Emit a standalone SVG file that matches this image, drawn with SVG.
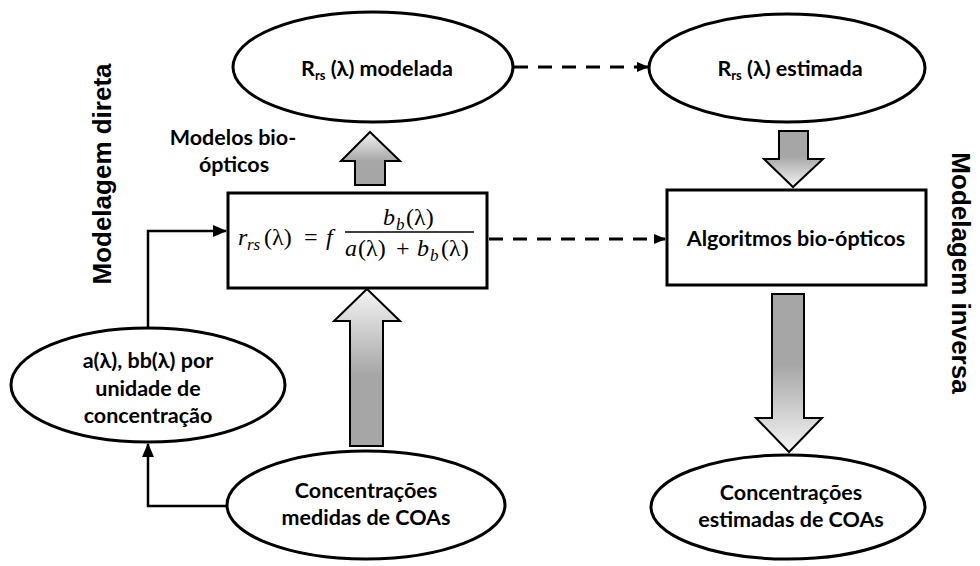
<svg xmlns="http://www.w3.org/2000/svg" width="980" height="566" viewBox="0 0 980 566">
  <style>
    .node { fill: #ffffff; stroke: #000000; stroke-width: 3; }
    .lbl { font-family: Lato, "Liberation Sans", sans-serif; font-weight: bold; font-size: 21.5px; fill: #000000; text-anchor: middle; }
    .sub { font-size: 13px; }
    .side { font-family: "Liberation Sans", Arial, sans-serif; font-weight: bold; font-size: 26px; fill: #000000; text-anchor: middle; }
    .math { font-family: "Liberation Serif", "DejaVu Serif", serif; font-style: italic; font-size: 24px; fill: #000000; }
    .msub { font-family: "Liberation Serif", "DejaVu Serif", serif; font-style: italic; font-size: 17px; fill: #000000; }
    .up { font-family: "Liberation Serif", "DejaVu Serif", serif; font-size: 24px; fill: #000000; }
    .dash { fill: none; stroke: #000000; stroke-width: 3; stroke-dasharray: 14 10; }
    .solid { fill: none; stroke: #000000; stroke-width: 2.5; }
    .block { stroke: #000000; stroke-width: 2; stroke-linejoin: miter; }
  </style>
  <defs>
    <linearGradient id="gradDown" x1="0" y1="0" x2="0" y2="1">
      <stop offset="0" stop-color="#a6a6a6"/>
      <stop offset="0.45" stop-color="#a6a6a6"/>
      <stop offset="1" stop-color="#f4f4f4"/>
    </linearGradient>
    <linearGradient id="gradUp" x1="0" y1="1" x2="0" y2="0">
      <stop offset="0" stop-color="#a6a6a6"/>
      <stop offset="0.45" stop-color="#a6a6a6"/>
      <stop offset="1" stop-color="#f4f4f4"/>
    </linearGradient>
    <marker id="headSmall" markerUnits="userSpaceOnUse" markerWidth="12" markerHeight="10" refX="11" refY="5" orient="auto">
      <path d="M0,0 L12,5 L0,10 Z" fill="#000000"/>
    </marker>
    <marker id="headSolid" markerUnits="userSpaceOnUse" markerWidth="14" markerHeight="12" refX="13" refY="6" orient="auto">
      <path d="M0,0 L14,6 L0,12 Z" fill="#000000"/>
    </marker>
  </defs>

  <!-- side captions -->
  <text class="side" transform="translate(111,174) rotate(-90)">Modelagem direta</text>
  <text class="side" transform="translate(952,273) rotate(90)">Modelagem inversa</text>

  <!-- connectors -->
  <g id="connectors">
    <line class="dash" x1="514" y1="67" x2="648" y2="67" marker-end="url(#headSmall)"/>
    <line class="dash" x1="489" y1="239" x2="665" y2="239" marker-end="url(#headSmall)"/>
    <polyline class="solid" points="227,506 148,506 148,444" marker-end="url(#headSolid)"/>
    <polyline class="solid" points="148,328 148,231 226,231" marker-end="url(#headSolid)"/>
    <polygon class="block" fill="url(#gradUp)" points="370,132 400,161 385,161 385,185 355,185 355,161 341,161"/>
    <polygon class="block" fill="url(#gradUp)" points="367,289 400,321 383,321 383,446 350,446 350,321 334,321"/>
    <polygon class="block" fill="url(#gradDown)" points="779,131 808,131 808,159 823,159 793,187 764,159 779,159"/>
    <polygon class="block" fill="url(#gradDown)" points="772,294 804,294 804,418 822,418 789,452 756,418 772,418"/>
  </g>

  <g id="rrs-modelada">
    <ellipse class="node" cx="373" cy="67" rx="140" ry="55"/>
    <text class="lbl" x="377" y="76">R<tspan class="sub" dy="4">rs</tspan><tspan dy="-4"> (λ) modelada</tspan></text>
  </g>

  <g id="rrs-estimada">
    <ellipse class="node" cx="787" cy="68" rx="138" ry="54"/>
    <text class="lbl" x="790" y="76">R<tspan class="sub" dy="4">rs</tspan><tspan dy="-4"> (λ) estimada</tspan></text>
  </g>

  <g id="modelos-label">
    <text class="lbl" x="233" y="145">Modelos bio-</text>
    <text class="lbl" x="234" y="172">ópticos</text>
  </g>

  <g id="formula">
    <rect class="node" x="228" y="193" width="259" height="95"/>
    <!-- left-hand side: r_rs(λ) = f -->
    <text class="math" x="238" y="245">r</text>
    <text class="msub" x="247" y="250">rs</text>
    <text class="up" x="264" y="245">(λ)</text>
    <text class="up" x="304" y="245">=</text>
    <text class="math" x="326" y="245">f</text>
    <!-- numerator: b_b(λ) -->
    <text class="math" x="383" y="225">b</text>
    <text class="msub" x="396" y="230">b</text>
    <text class="up" x="406" y="225">(λ)</text>
    <line x1="345" y1="232" x2="474" y2="232" stroke="#000000" stroke-width="1.5"/>
    <!-- denominator: a(λ) + b_b(λ) -->
    <text class="math" x="345" y="256">a</text>
    <text class="up" x="358" y="256">(λ)</text>
    <text class="up" x="396" y="256">+</text>
    <text class="math" x="417" y="256">b</text>
    <text class="msub" x="430" y="261">b</text>
    <text class="up" x="441" y="256">(λ)</text>
  </g>

  <g id="algoritmos">
    <rect class="node" x="667" y="190" width="259" height="95"/>
    <text class="lbl" x="796" y="246">Algoritmos bio-ópticos</text>
  </g>

  <g id="iops">
    <ellipse class="node" cx="148" cy="385" rx="137" ry="57"/>
    <text class="lbl" x="148" y="368">a(λ), bb(λ) por</text>
    <text class="lbl" x="148" y="396">unidade de</text>
    <text class="lbl" x="148" y="423">concentração</text>
  </g>

  <g id="coas-medidas">
    <ellipse class="node" cx="366" cy="505" rx="139" ry="54"/>
    <text class="lbl" x="366" y="498">Concentrações</text>
    <text class="lbl" x="366" y="525">medidas de COAs</text>
  </g>

  <g id="coas-estimadas">
    <ellipse class="node" cx="788" cy="507" rx="137" ry="52"/>
    <text class="lbl" x="791" y="500">Concentrações</text>
    <text class="lbl" x="791" y="527">estimadas de COAs</text>
  </g>
</svg>
